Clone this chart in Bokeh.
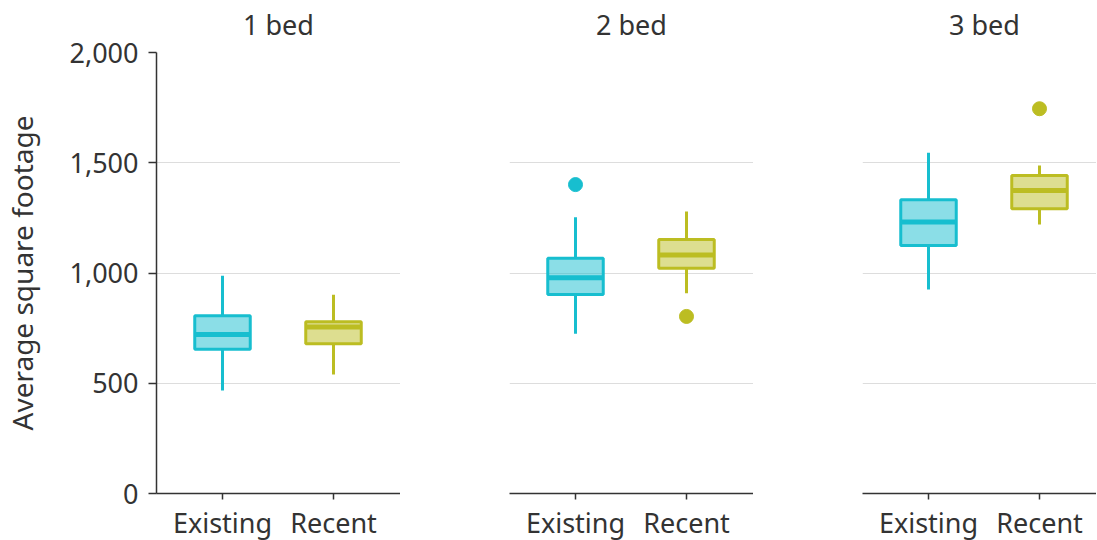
from bokeh.plotting import figure
from bokeh.layouts import row
from bokeh.models import Range1d, FixedTicker, NumeralTickFormatter, LinearAxis
from bokeh.embed import file_html
from bokeh.resources import INLINE

# ---- data ----
bedrooms = ["1 bed", "2 bed", "3 bed"]
groups = ["Existing", "Recent"]

existing_lower = [467, 724, 925]
existing_q1 = [654, 902, 1125]
existing_median = [721, 978, 1231]
existing_q3 = [806, 1067, 1332]
existing_upper = [988, 1253, 1545]

recent_lower = [540, 908, 1220]
recent_q1 = [679, 1022, 1291]
recent_median = [755, 1082, 1374]
recent_q3 = [779, 1152, 1442]
recent_upper = [901, 1279, 1488]

outlier_bed = ["2 bed", "2 bed", "3 bed"]
outlier_group = ["Existing", "Recent", "Recent"]
outlier_value = [1401, 803, 1745]

y_ticks = [0, 500, 1000, 1500, 2000]

# ---- styling ----
colors = {"Existing": "#17becf", "Recent": "#bcbd22"}
FONT = "Noto Sans"
TXT = "#333333"
FS = "27px"
BOX_W = 0.5
PX_PER_UNIT = 111.0
PANEL_W = 244
X_START = 0.5 - 66 / PX_PER_UNIT
TITLE_X = X_START + PANEL_W / 2 / PX_PER_UNIT

stats = {
    "Existing": (existing_lower, existing_q1, existing_median, existing_q3, existing_upper),
    "Recent": (recent_lower, recent_q1, recent_median, recent_q3, recent_upper),
}

frame_widths = [244, 244, 234]
left_borders = [152, 109, 109]

figs = []
for i, bed in enumerate(bedrooms):
    fw = frame_widths[i]
    p = figure(
        frame_width=fw, frame_height=441,
        min_border_left=left_borders[i], min_border_right=0,
        min_border_top=52, min_border_bottom=0,
        x_range=Range1d(X_START, X_START + fw / PX_PER_UNIT),
        y_range=Range1d(0, 2000),
        y_axis_location="left" if i == 0 else None,
        output_backend="svg", toolbar_location=None,
    )
    p.outline_line_color = None
    p.background_fill_color = "white"
    p.border_fill_color = "white"

    # panel title (strip label), centred over the panel
    ta = LinearAxis(
        ticker=FixedTicker(ticks=[TITLE_X]),
        major_label_overrides={TITLE_X: bed},
        axis_line_color=None, major_tick_line_color=None,
        minor_tick_line_color=None, major_tick_in=0, major_tick_out=0,
        major_label_standoff=10,
        major_label_text_font=FONT, major_label_text_font_size=FS,
        major_label_text_color=TXT,
    )
    p.add_layout(ta, "above")

    p.xgrid.visible = False
    p.ygrid.ticker = FixedTicker(ticks=y_ticks)
    p.ygrid.grid_line_color = "#dddddd"
    p.ygrid.grid_line_width = 1

    # x axis
    xpos = [j + 0.5 for j in range(len(groups))]
    xa = p.below[0]
    xa.ticker = FixedTicker(ticks=xpos)
    xa.major_label_overrides = {x: g for x, g in zip(xpos, groups)}
    xa.minor_tick_line_color = None
    xa.major_tick_in = 0
    xa.major_tick_out = 6
    xa.major_label_standoff = 4
    xa.axis_line_color = TXT
    xa.axis_line_width = 1.5
    xa.major_tick_line_color = TXT
    xa.major_tick_line_width = 1.5
    xa.major_label_text_font = FONT
    xa.major_label_text_font_size = FS
    xa.major_label_text_color = TXT

    if i == 0:
        ya = p.yaxis[0]
        ya.ticker = FixedTicker(ticks=y_ticks)
        ya.formatter = NumeralTickFormatter(format="0,0")
        ya.minor_tick_line_color = None
        ya.major_tick_in = 0
        ya.major_tick_out = 8
        ya.major_label_standoff = 10
        ya.axis_line_color = TXT
        ya.axis_line_width = 1.5
        ya.major_tick_line_color = TXT
        ya.major_tick_line_width = 1.5
        ya.major_label_text_font = FONT
        ya.major_label_text_font_size = FS
        ya.major_label_text_color = TXT
        ya.axis_label = "Average square footage"
        ya.axis_label_text_font = FONT
        ya.axis_label_text_font_size = "28px"
        ya.axis_label_text_font_style = "normal"
        ya.axis_label_text_color = TXT
        ya.axis_label_standoff = 25

    for j, g in enumerate(groups):
        lo, q1, med, q3, hi = (s[i] for s in stats[g])
        x = xpos[j]
        c = colors[g]
        # whiskers
        p.segment(x0=[x, x], y0=[q3, q1], x1=[x, x], y1=[hi, lo],
                  line_color=c, line_width=3)
        # box
        p.vbar(x=[x], width=BOX_W, bottom=[q1], top=[q3],
               fill_color=c, fill_alpha=0.5, line_color=c, line_width=3)
        # median
        p.segment(x0=[x - BOX_W / 2], y0=[med], x1=[x + BOX_W / 2], y1=[med],
                  line_color=c, line_width=5)

    # outliers
    ox, oy, oc = [], [], []
    for b, g, v in zip(outlier_bed, outlier_group, outlier_value):
        if b == bed:
            ox.append(groups.index(g) + 0.5)
            oy.append(v)
            oc.append(colors[g])
    if ox:
        p.scatter(x=ox, y=oy, size=14, fill_color=oc, line_color=oc, marker="circle")

    figs.append(p)

layout = row(*figs)
open("out.html", "w").write(file_html(layout, INLINE))
